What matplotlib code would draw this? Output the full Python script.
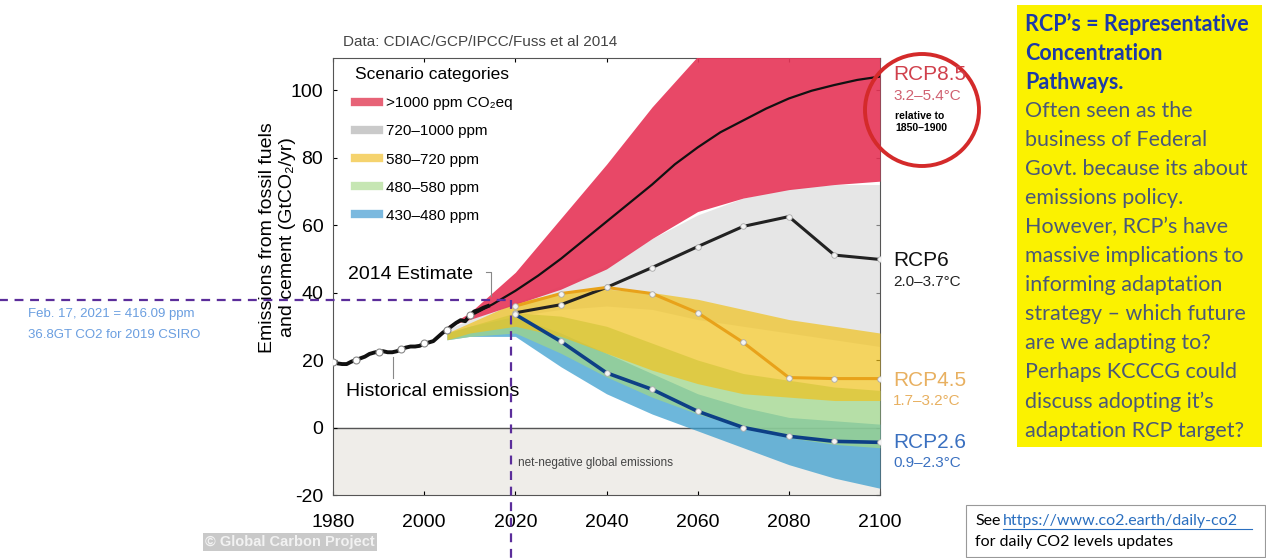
import matplotlib
matplotlib.use("Agg")
import matplotlib.pyplot as plt
from matplotlib.lines import Line2D
from matplotlib.patches import Ellipse, Rectangle

plt.rcParams['font.family'] = ['Liberation Sans', 'DejaVu Sans']
plt.rcParams['axes.unicode_minus'] = False

# historical emissions (GtCO2/yr)
hist_years = list(range(1980, 2015))
hist_vals = [19.5, 19.0, 18.8, 18.8, 19.5, 20.0, 20.5, 21.0, 21.8, 22.2,
             22.5, 22.6, 22.3, 22.3, 22.6, 23.2, 23.7, 24.0, 24.0, 24.2,
             24.9, 25.2, 25.6, 26.8, 28.0, 29.0, 30.0, 31.0, 31.8, 31.5,
             33.2, 34.4, 34.8, 35.5, 36.0]

# scenario category envelopes
fan_years = [2005, 2010, 2020, 2030, 2040, 2050, 2060, 2070, 2080, 2090, 2100]
red_hi = [30, 34, 46, 62, 78, 95, 110, 118, 122, 124, 125]
red_lo = [30, 32, 36.5, 41, 47, 56, 64, 68, 70.5, 72, 73]
gray_hi = [29, 32, 37, 42, 48, 56, 63, 68, 71, 72, 72]
gray_lo = [28, 30, 33, 35, 36, 35, 32, 30, 28, 26, 24]
yel_hi = [28, 31, 37, 40, 41, 40, 38, 35, 32, 30, 28]
yel_lo = [26, 28, 30, 27, 22, 17, 13, 10, 9, 8, 8]
grn_hi = [28, 30, 34, 33, 30, 25, 20, 16, 14, 12, 11]
grn_lo = [26, 27, 28, 22, 15, 9, 4, 0, -3, -5, -6]
blu_hi = [28, 30, 33, 28, 22, 16, 10, 6, 3, 2, 1]
blu_lo = [26, 27, 27, 18, 10, 4, -1, -6, -11, -15, -18]

# RCP pathways
rcp85_years = [2010, 2015, 2020, 2025, 2030, 2035, 2040, 2045, 2050, 2055,
               2060, 2065, 2070, 2075, 2080, 2085, 2090, 2095, 2100]
rcp85 = [33, 36.5, 40.5, 45, 50, 55.5, 61, 66.5, 72, 78, 83, 87.5, 91,
         94.5, 97.5, 99.8, 101.5, 103, 104]
rcp_years = [2020, 2030, 2040, 2050, 2060, 2070, 2080, 2090, 2100]
rcp6 = [34, 36.4, 41.5, 47.4, 53.6, 59.6, 62.5, 51.1, 49.8]
rcp45 = [36, 39.7, 41.5, 39.7, 34, 25.2, 14.8, 14.5, 14.5]
rcp26 = [33.5, 25.5, 16.2, 11.3, 4.8, 0, -2.6, -4.1, -4.4]

legend_labels = ['>1000 ppm CO₂eq', '720–1000 ppm', '580–720 ppm',
                 '480–580 ppm', '430–480 ppm']
legend_colors = ['#e23c55', '#bdbdbd', '#f3c94a', '#b8e0a0', '#5aa8d8']

W, H = 1266, 558


def fx(x):
    return x / W


def fy(y):
    return 1 - y / H


fig = plt.figure(figsize=(W / 100, H / 100), dpi=100)
fig.patch.set_facecolor('white')
ax = fig.add_axes([fx(333), fy(495), (880 - 333) / W, (495 - 58) / H])

ax.set_xlim(1980, 2100)
ax.set_ylim(-20, 109.5)

# net-negative area
ax.axhspan(-20, 0, color='#efede9', zorder=0)
ax.axhline(0, color='#555555', lw=1.0, zorder=1)
ax.text(2020.5, -10.4, 'net-negative global emissions', fontsize=8.5, color='#444444',
        va='center')

# fans
ax.fill_between(fan_years, gray_lo, gray_hi, color='#d6d6d6', alpha=0.6, lw=0, zorder=2)
ax.fill_between(fan_years, blu_lo, blu_hi, color='#3c9fcf', alpha=0.75, lw=0, zorder=3)
ax.fill_between(fan_years, grn_lo, grn_hi, color='#9ed58a', alpha=0.75, lw=0, zorder=4)
ax.fill_between(fan_years, yel_lo, yel_hi, color='#f0c21c', alpha=0.7, lw=0, zorder=5)
ax.fill_between(fan_years, red_lo, red_hi, color='#e6385a', alpha=0.92, lw=0, zorder=6)

# pathways
mk = dict(marker='o', ms=4, mfc='#f4f4f4', mec='#aaaaaa', mew=0.6)
ax.plot(rcp85_years, rcp85, color='#111111', lw=1.6, zorder=8)
ax.plot(rcp_years, rcp6, color='#222222', lw=2.2, zorder=8, **mk)
ax.plot(rcp_years, rcp45, color='#e8a21a', lw=2.2, zorder=8, **mk)
ax.plot(rcp_years, rcp26, color='#0d3f86', lw=2.6, zorder=8, **mk)
ax.plot(hist_years, hist_vals, color='#111111', lw=2.8, zorder=9,
        marker='o', ms=5, mfc='white', mec='#888888', mew=0.8, markevery=5)

# annotations
ax.text(1983.3, 45.3, '2014 Estimate', fontsize=14, va='center', zorder=10)
ax.plot([2013.6, 2014.6, 2014.6], [46, 46, 39], color='#888888', lw=0.8, zorder=10)
ax.text(1982.9, 10.7, 'Historical emissions', fontsize=14, va='center', zorder=10)
ax.plot([1993.2, 1993.2], [14.8, 21], color='#888888', lw=0.8, zorder=10)

# axes styling
ax.set_xticks([1980, 2000, 2020, 2040, 2060, 2080, 2100])
ax.set_yticks([-20, 0, 20, 40, 60, 80, 100])
ax.tick_params(labelsize=14, direction='in', length=3, top=True, right=True)
ax.tick_params(axis='x', pad=14)
ax.tick_params(axis='y', pad=7)
for s in ax.spines.values():
    s.set_color('#555555')
ax.set_ylabel('Emissions from fossil fuels\nand cement (GtCO₂/yr)', fontsize=14)
ax.yaxis.set_label_coords(-0.068, 0.59)

handles = [Line2D([], [], color=c, lw=6, alpha=0.8) for c in legend_colors]
leg = ax.legend(handles, legend_labels, title='Scenario categories', loc='upper left',
                bbox_to_anchor=(0.015, 1.01), frameon=False, fontsize=11,
                title_fontsize=12.5, handlelength=1.6, labelspacing=0.92,
                handletextpad=0.4)
leg._legend_box.align = 'left'
leg.set_zorder(12)

# purple guide lines
guide_year, guide_val = 2019, 37.8
ax.plot([-0.62, (guide_year - 1980) / 120], [guide_val, guide_val],
        transform=ax.get_yaxis_transform(), color='#5b2d9a', lw=1.6,
        ls=(0, (4, 3)), clip_on=False, zorder=11)
ax.plot([guide_year, guide_year], [(guide_val + 20) / 129.5, -0.15],
        transform=ax.get_xaxis_transform(), color='#5b2d9a', lw=1.6,
        ls=(0, (4, 3)), clip_on=False, zorder=11)
fig.text(fx(28), fy(325), 'Feb. 17, 2021 = 416.09 ppm\n36.8GT CO2 for 2019 CSIRO',
         fontsize=9.5, color='#6a9ee0', va='center', linespacing=2.0)

fig.text(fx(343), fy(42), 'Data: CDIAC/GCP/IPCC/Fuss et al 2014', fontsize=11,
         color='#444444', va='center')
fig.text(fx(290), fy(542), '© Global Carbon Project', fontsize=10.5, color='#f2f2f2',
         fontweight='bold', ha='center', va='center',
         bbox=dict(boxstyle='square,pad=0.15', fc='#c9c9c9', ec='none'))

# RCP labels on the right
fig.text(fx(893), fy(75), 'RCP8.5', fontsize=15, color='#d0404c', va='center')
fig.text(fx(893), fy(96), '3.2–5.4°C', fontsize=11, color='#d06070', va='center')
fig.text(fx(895), fy(122), 'relative to\n1850–1900', fontsize=7.5, fontweight='bold',
         va='center', linespacing=1.2)
fig.add_artist(Ellipse((fx(922), fy(110)), 114 / W, 112 / H, transform=fig.transFigure,
                       fill=False, ec='#d42a2a', lw=2.8))
fig.text(fx(893), fy(260), 'RCP6', fontsize=15, color='#111111', va='center')
fig.text(fx(893), fy(282), '2.0–3.7°C', fontsize=11, color='#222222', va='center')
fig.text(fx(893), fy(380), 'RCP4.5', fontsize=15, color='#e8b060', va='center')
fig.text(fx(893), fy(401), '1.7–3.2°C', fontsize=11, color='#e8b060', va='center')
fig.text(fx(893), fy(442), 'RCP2.6', fontsize=15, color='#3a70c0', va='center')
fig.text(fx(893), fy(463), '0.9–2.3°C', fontsize=11, color='#3a70c0', va='center')

# yellow note box
fig.add_artist(Rectangle((fx(1017), fy(447)), 245 / W, 442 / H, transform=fig.transFigure,
                         fc='#fbf200', ec='none'))
fig.text(fx(1025), fy(53.5), 'RCP’s = Representative\nConcentration\nPathways.',
         fontsize=15.5, fontweight='bold', color='#1c3aa8', va='center',
         family=['Lato', 'DejaVu Sans'], linespacing=1.47)
fig.text(fx(1025), fy(271), 'Often seen as the\nbusiness of Federal\nGovt. because its about\n'
         'emissions policy.\nHowever, RCP’s have\nmassive implications to\n'
         'informing adaptation\nstrategy – which future\nare we adapting to?\n'
         'Perhaps KCCCG could\ndiscuss adopting it’s\nadaptation RCP target?',
         fontsize=15.5, color='#4a5878', va='center', family=['Lato', 'DejaVu Sans'],
         linespacing=1.566)

# link box
fig.add_artist(Rectangle((fx(966), fy(557)), 299 / W, 52 / H, transform=fig.transFigure,
                         fc='white', ec='#999999', lw=0.8))
fig.text(fx(975), fy(521), 'See', fontsize=11.5, va='center', family=['Lato', 'DejaVu Sans'])
fig.text(fx(1003), fy(521), 'https://www.co2.earth/daily-co2', fontsize=11.5, va='center',
         color='#2a6fc0', family=['Lato', 'DejaVu Sans'])
fig.add_artist(Line2D([fx(1003), fx(1252)], [fy(529), fy(529)], color='#2a6fc0', lw=0.8))
fig.text(fx(975), fy(542), 'for daily CO2 levels updates', fontsize=11.5, va='center',
         family=['Lato', 'DejaVu Sans'])

fig.savefig('out.png', dpi=100)
